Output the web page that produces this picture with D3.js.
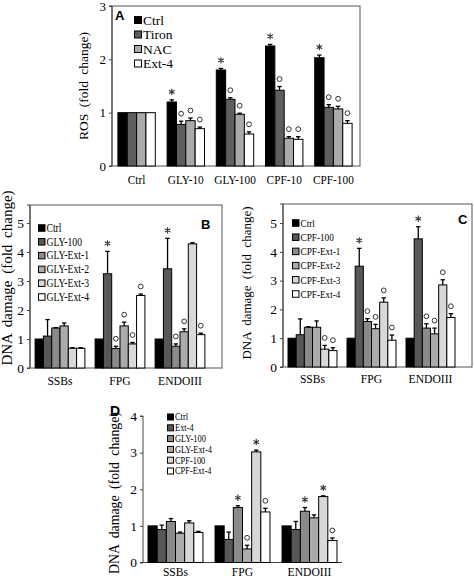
<!DOCTYPE html>
<html><head><meta charset="utf-8">
<script src="https://cdn.jsdelivr.net/npm/d3@7"></script>
<style>
body{margin:0;background:#fff;}
svg{display:block;}
text{font-family:"Liberation Serif","Times New Roman",serif;fill:#000;}
.letter{font-family:"Liberation Sans",Arial,sans-serif;font-weight:bold;}
</style></head>
<body>
<svg id="chart" width="474" height="578"></svg>
<script>
// ---------- Panel A : ROS ----------
const catsA = ["Ctrl","GLY-10","GLY-100","CPF-10","CPF-100"];
const seriesA = ["Ctrl","Tiron","NAC","Ext-4"];
const valsA_Ctrl  = [1, 1.20, 1.80, 2.25, 2.03];
const valsA_Tiron = [1, 0.78, 1.25, 1.42, 1.10];
const valsA_NAC   = [1, 0.85, 0.97, 0.52, 1.07];
const valsA_Ext4  = [1, 0.70, 0.60, 0.50, 0.80];
const errA_Ctrl  = [0, 0.04, 0.03, 0.03, 0.05];
const errA_Tiron = [0, 0.06, 0.03, 0.07, 0.05];
const errA_NAC   = [0, 0.05, 0.02, 0.03, 0.05];
const errA_Ext4  = [0, 0.03, 0.04, 0.05, 0.05];
const markA_Ctrl  = ["","*","*","*","*"];
const markA_Tiron = ["","o","o","o","o"];
const markA_NAC   = ["","o","o","o","o"];
const markA_Ext4  = ["","o","o","o","o"];
const ticksA = [0,1,2,3];

// ---------- Panel B : GLY ----------
const catsBCD = ["SSBs","FPG","ENDOIII"];
const seriesB = ["Ctrl","GLY-100","GLY-Ext-1","GLY-Ext-2","GLY-Ext-3","GLY-Ext-4"];
const valsB_Ctrl = [1, 1, 1];
const valsB_G100 = [1.10, 3.25, 3.42];
const valsB_E1   = [1.38, 0.67, 0.75];
const valsB_E2   = [1.45, 1.45, 1.25];
const valsB_E3   = [0.68, 0.83, 4.28];
const valsB_E4   = [0.68, 2.50, 1.15];
const errB_Ctrl = [0, 0, 0];
const errB_G100 = [0.57, 0.77, 1.05];
const errB_E1   = [0.01, 0.08, 0.08];
const errB_E2   = [0.10, 0.13, 0.10];
const errB_E3   = [0.02, 0.05, 0.04];
const errB_E4   = [0.02, 0.05, 0.05];
const markB_Ctrl = ["","",""];
const markB_G100 = ["","*","*"];
const markB_E1   = ["","o","o"];
const markB_E2   = ["","o","o"];
const markB_E3   = ["","o",""];
const markB_E4   = ["","o","o"];
const ticksBC = [0,1,2,3,4,5];

// ---------- Panel C : CPF ----------
const seriesC = ["Ctrl","CPF-100","CPF-Ext-1","CPF-Ext-2","CPF-Ext-3","CPF-Ext-4"];
const valsC_Ctrl = [1, 1, 1];
const valsC_C100 = [1.12, 3.50, 4.45];
const valsC_E1   = [1.38, 1.58, 1.35];
const valsC_E2   = [1.38, 1.33, 1.15];
const valsC_E3   = [0.62, 2.25, 2.85];
const valsC_E4   = [0.57, 0.93, 1.72];
const errC_Ctrl = [0, 0, 0];
const errC_C100 = [0.55, 0.62, 0.42];
const errC_E1   = [0.02, 0.10, 0.15];
const errC_E2   = [0.22, 0.15, 0.20];
const errC_E3   = [0.13, 0.15, 0.18];
const errC_E4   = [0.10, 0.18, 0.13];
const markC_Ctrl = ["","",""];
const markC_C100 = ["","*","*"];
const markC_E1   = ["","o","o"];
const markC_E2   = ["","o","o"];
const markC_E3   = ["o","o","o"];
const markC_E4   = ["o","o","o"];

// ---------- Panel D ----------
const seriesD = ["Ctrl","Ext-4","GLY-100","GLY-Ext-4","CPF-100","CPF-Ext-4"];
const valsD_Ctrl = [1, 1, 1];
const valsD_E4   = [0.90, 0.63, 0.90];
const valsD_G100 = [1.12, 1.50, 1.40];
const valsD_GE4  = [0.80, 0.37, 1.22];
const valsD_C100 = [1.08, 3.02, 1.80];
const valsD_CE4  = [0.82, 1.38, 0.60];
const errD_Ctrl = [0, 0, 0];
const errD_E4   = [0.12, 0.20, 0.22];
const errD_G100 = [0.08, 0.05, 0.10];
const errD_GE4  = [0.03, 0.10, 0.08];
const errD_C100 = [0.06, 0.05, 0.02];
const errD_CE4  = [0.03, 0.10, 0.07];
const markD_Ctrl = ["","",""];
const markD_E4   = ["","",""];
const markD_G100 = ["","*","*"];
const markD_GE4  = ["","o",""];
const markD_C100 = ["","*","*"];
const markD_CE4  = ["","o","o"];
const ticksD = [0,1,2,3,4];

const colorsA = ["#000000","#5e5e5e","#aaaaaa","#ffffff"];
const colors6 = ["#000000","#575757","#8a8a8a","#ababab","#d8d8d8","#ffffff"];

const svg = d3.select("#chart");

// six-armed asterisk path, radius r
function starPath(r){
  let p = "";
  for (let k = 0; k < 3; k++) {
    const a = Math.PI/2 + k*Math.PI/3;
    const dx = r*Math.cos(a), dy = r*Math.sin(a);
    p += `M${-dx},${-dy}L${dx},${dy}`;
  }
  return p;
}

function panel(cfg){
  const g = svg.append("g");
  const y = d3.scaleLinear().domain([0, cfg.yTop]).range([cfg.y0, cfg.yTopPx]);
  const x0 = d3.scaleBand().domain(cfg.cats).range(cfg.xRange)
      .paddingInner(cfg.pi).paddingOuter(cfg.po);
  const x1 = d3.scaleBand().domain(cfg.series).range([0, x0.bandwidth()]);
  const color = d3.scaleOrdinal().domain(cfg.series).range(cfg.colors);

  const rows = [];
  cfg.series.forEach((s, si) => {
    cfg.cats.forEach((c, ci) => {
      rows.push({s, c, v: cfg.vals[si][ci], e: cfg.errs[si][ci], m: cfg.marks[si][ci]});
    });
  });

  // frame / axes
  if (cfg.box) {
    g.append("rect").attr("x", cfg.frame[0]).attr("y", y(cfg.yTop))
      .attr("width", cfg.frame[1]-cfg.frame[0]).attr("height", y(0)-y(cfg.yTop))
      .attr("fill","none").attr("stroke","#555").attr("stroke-width",1);
  } else {
    g.append("line").attr("x1", cfg.frame[0]).attr("x2", cfg.frame[1])
      .attr("y1", y(0)).attr("y2", y(0)).attr("stroke","#444");
  }
  const ax = g.append("g").attr("transform", `translate(${cfg.frame[0]},0)`)
    .call(d3.axisLeft(y).tickValues(cfg.ticks).tickFormat(d3.format("d")).tickSize(3).tickPadding(3));
  ax.select(".domain").attr("stroke","#444").attr("d", `M-3,${y(cfg.yTop)}H0V${y(0)}H-3`);
  ax.selectAll(".tick line").attr("stroke","#444");
  ax.selectAll("text").style("font-family",'"Liberation Serif",serif').style("font-size", cfg.tickFs+"px");

  // bars
  const bw = x1.bandwidth();
  const cx = d => x0(d.c) + x1(d.s) + bw/2;
  g.selectAll("rect.bar").data(rows).join("rect").attr("class","bar")
    .attr("x", d => x0(d.c) + x1(d.s))
    .attr("y", d => y(d.v))
    .attr("width", bw)
    .attr("height", d => y(0) - y(d.v))
    .attr("fill", d => color(d.s))
    .attr("stroke", "#000").attr("stroke-width", 1);

  // error bars (upper only)
  const eb = rows.filter(d => d.e > 0);
  g.selectAll("line.eb").data(eb).join("line").attr("class","eb")
    .attr("x1", cx).attr("x2", cx)
    .attr("y1", d => y(d.v)).attr("y2", d => y(d.v + d.e))
    .attr("stroke","#000").attr("stroke-width",1.3);
  g.selectAll("line.ec").data(eb).join("line").attr("class","ec")
    .attr("x1", d => cx(d) - 2.2).attr("x2", d => cx(d) + 2.2)
    .attr("y1", d => y(d.v + d.e)).attr("y2", d => y(d.v + d.e))
    .attr("stroke","#000").attr("stroke-width",1.3);

  // significance marks
  g.selectAll("path.star").data(rows.filter(d => d.m === "*")).join("path").attr("class","star")
    .attr("transform", d => `translate(${cx(d)},${y(d.v + d.e) - 8})`)
    .attr("d", starPath(3.2)).attr("stroke","#333").attr("stroke-width",1.1).attr("fill","none");
  g.selectAll("circle.ring").data(rows.filter(d => d.m === "o")).join("circle").attr("class","ring")
    .attr("cx", cx)
    .attr("cy", d => y(d.v + d.e) - 7.5)
    .attr("r", 2.4).attr("fill","none").attr("stroke","#333").attr("stroke-width",1);

  // category labels (slightly condensed like the original)
  g.selectAll("text.cat").data(cfg.cats).join("text").attr("class","cat")
    .attr("transform", d => `translate(${x0(d) + x0.bandwidth()/2},${cfg.catY}) scale(${cfg.catSx},1)`)
    .attr("text-anchor","middle").style("font-size", cfg.catFs+"px").text(d => d);

  // y label
  g.append("text").attr("transform", `translate(${cfg.yLab[0]},${cfg.yLab[1]}) rotate(-90)`)
    .attr("text-anchor","middle").attr("dominant-baseline","middle")
    .style("font-size", cfg.yLabFs+"px").style("word-spacing","3px").text(cfg.yLabel);

  // legend
  const lg = g.append("g").attr("transform", `translate(${cfg.leg[0]},${cfg.leg[1]})`);
  cfg.series.forEach((s, i) => {
    const r = lg.append("g").attr("transform", `translate(0,${i*cfg.legStep})`);
    r.append("rect").attr("x",0.5).attr("y",-cfg.legSq/2).attr("width",cfg.legSq).attr("height",cfg.legSq)
      .attr("fill", color(s)).attr("stroke","#000").attr("stroke-width",1);
    r.append("text").attr("transform", `translate(${cfg.legSq + 2},0) scale(${cfg.legSx},1)`)
      .attr("dominant-baseline","central")
      .style("font-size", cfg.legFs+"px").text(s);
  });

  // panel letter
  g.append("text").attr("class","letter").attr("x", cfg.letter[0]).attr("y", cfg.letter[1])
    .style("font-size", cfg.letterFs+"px").text(cfg.letterText);
}

panel({
  cats: catsA, series: seriesA, colors: colorsA,
  vals: [valsA_Ctrl, valsA_Tiron, valsA_NAC, valsA_Ext4],
  errs: [errA_Ctrl, errA_Tiron, errA_NAC, errA_Ext4],
  marks: [markA_Ctrl, markA_Tiron, markA_NAC, markA_Ext4],
  ticks: ticksA, yTop: 3, y0: 166, yTopPx: 6,
  xRange: [112, 358], pi: 0.24, po: 0.12, frame: [112, 360], box: true,
  catY: 184, catFs: 13, catSx: 0.87, tickFs: 13,
  yLabel: "ROS (fold change)", yLab: [85, 86], yLabFs: 13.5,
  leg: [134, 20], legStep: 14.5, legSq: 7, legFs: 13.5, legSx: 1,
  letter: [115, 19.5], letterFs: 13, letterText: "A"
});

panel({
  cats: catsBCD, series: seriesB, colors: colors6,
  vals: [valsB_Ctrl, valsB_G100, valsB_E1, valsB_E2, valsB_E3, valsB_E4],
  errs: [errB_Ctrl, errB_G100, errB_E1, errB_E2, errB_E3, errB_E4],
  marks: [markB_Ctrl, markB_G100, markB_E1, markB_E2, markB_E3, markB_E4],
  ticks: ticksBC, yTop: 5.62, y0: 368, yTopPx: 205,
  xRange: [30, 210], pi: 0.17, po: 0.085, frame: [30, 222], box: true,
  catY: 385, catFs: 13.5, catSx: 0.86, tickFs: 13.5,
  yLabel: "DNA damage (fold change)", yLab: [9, 278], yLabFs: 15,
  leg: [38, 228], legStep: 13.8, legSq: 6.5, legFs: 11.5, legSx: 0.84,
  letter: [201, 228.5], letterFs: 13, letterText: "B"
});

panel({
  cats: catsBCD, series: seriesC, colors: colors6,
  vals: [valsC_Ctrl, valsC_C100, valsC_E1, valsC_E2, valsC_E3, valsC_E4],
  errs: [errC_Ctrl, errC_C100, errC_E1, errC_E2, errC_E3, errC_E4],
  marks: [markC_Ctrl, markC_C100, markC_E1, markC_E2, markC_E3, markC_E4],
  ticks: ticksBC, yTop: 5.66, y0: 367, yTopPx: 204,
  xRange: [283, 460], pi: 0.17, po: 0.085, frame: [283, 472], box: true,
  catY: 383, catFs: 13.5, catSx: 0.86, tickFs: 13.5,
  yLabel: "DNA damage (fold change)", yLab: [248, 283], yLabFs: 13,
  leg: [292, 223], legStep: 14.2, legSq: 6.5, legFs: 11, legSx: 0.84,
  letter: [458, 223.5], letterFs: 13, letterText: "C"
});

panel({
  cats: catsBCD, series: seriesD, colors: colors6,
  vals: [valsD_Ctrl, valsD_E4, valsD_G100, valsD_GE4, valsD_C100, valsD_CE4],
  errs: [errD_Ctrl, errD_E4, errD_G100, errD_GE4, errD_C100, errD_CE4],
  marks: [markD_Ctrl, markD_E4, markD_G100, markD_GE4, markD_C100, markD_CE4],
  ticks: ticksD, yTop: 4, y0: 562.5, yTopPx: 416,
  xRange: [143, 342], pi: 0.18, po: 0.075, frame: [143, 342], box: false,
  catY: 576, catFs: 13.5, catSx: 0.86, tickFs: 13.5,
  yLabel: "DNA damage (fold change)", yLab: [116, 493], yLabFs: 13.8,
  leg: [167, 417], legStep: 10.8, legSq: 6, legFs: 10.5, legSx: 0.8,
  letter: [110, 415.5], letterFs: 14, letterText: "D"
});
</script>
</body></html>
